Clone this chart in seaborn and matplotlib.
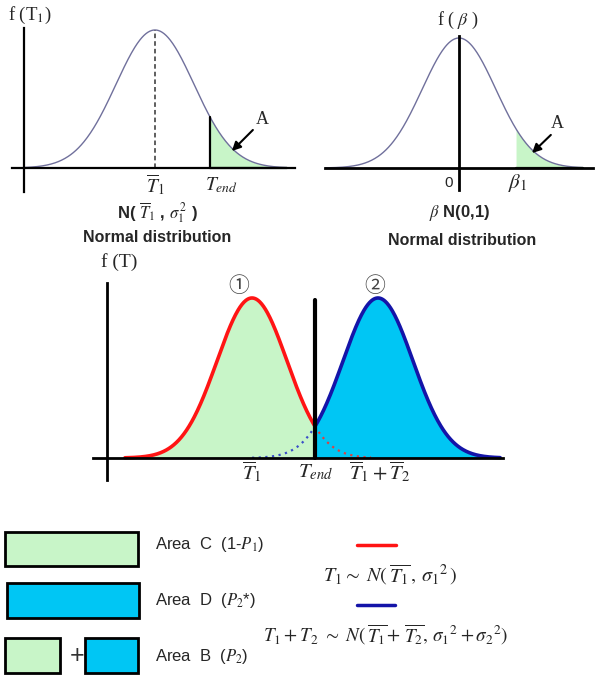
import numpy as np
import matplotlib
matplotlib.use('Agg')
import matplotlib.pyplot as plt
import seaborn as sns
from matplotlib.patches import Rectangle

# curve parameters (standardised units, sigma = 1)
p1_mean, p1_sigma, p1_tend = 0.0, 1.0, 1.41
p1_range = (-3.36, 3.38)
p2_mean, p2_sigma, p2_beta1 = 0.0, 1.0, 1.55
p2_range = (-3.64, 3.37)
p3_mean1, p3_mean2, p3_sigma, p3_tend = 0.0, 3.6, 1.0, 1.8
p3_range = (-3.63, 7.09)

legend_labels = ['Area  C  (1-$P_1$)', 'Area  D  ($P_2$*)', 'Area  B  ($P_2$)']

GREEN = '#c8f5c8'
CYAN = '#00c6f4'
RED = '#ff1414'
BLUE = '#1414a8'
CURVE = '#70709c'

W, H = 600, 685
sns.set_style('white')
plt.rcParams['mathtext.fontset'] = 'stix'
plt.rcParams['font.family'] = ['Liberation Sans', 'DejaVu Sans']

fig = plt.figure(figsize=(6, 6.85), dpi=100)

bg = fig.add_axes([0, 0, 1, 1])
bg.set_xlim(0, W)
bg.set_ylim(H, 0)
bg.axis('off')


def px_axes(x0, y0, x1, y1):
    ax = fig.add_axes([x0 / W, 1 - y1 / H, (x1 - x0) / W, (y1 - y0) / H])
    ax.patch.set_alpha(0)
    return ax


def pdf(x, m, s):
    return np.exp(-0.5 * ((x - m) / s) ** 2) / (s * np.sqrt(2 * np.pi))


def setup(ax, xlim, ylim, left_at, lw=1.6):
    ax.set_xlim(*xlim)
    ax.set_ylim(*ylim)
    ax.set_xticks([])
    ax.set_yticks([])
    ax.spines[['top', 'right']].set_visible(False)
    ax.spines['left'].set_position(('data', left_at))
    ax.spines['bottom'].set_position(('data', 0))
    for s in ('left', 'bottom'):
        ax.spines[s].set_color('black')
        ax.spines[s].set_linewidth(lw)


# ---------- panel 1 ----------
ax1 = px_axes(12, 28, 295, 192)
k1 = 0.3989 / 138
setup(ax1, (-143 / 39, 140 / 39), (-24 * k1, 140 * k1), p1_range[0])
x = np.linspace(*p1_range, 400)
sns.lineplot(x=x, y=pdf(x, p1_mean, p1_sigma), ax=ax1, color=CURVE, lw=1.0)
xt = np.linspace(p1_tend, p1_range[1], 200)
ax1.fill_between(xt, 0, pdf(xt, p1_mean, p1_sigma), color=GREEN, lw=0)
ax1.plot([p1_tend, p1_tend], [0, pdf(p1_tend, p1_mean, p1_sigma)], color='black', lw=1.6)
ax1.plot(xt, np.zeros_like(xt), color='#1e3a1e', lw=1.6)
ax1.plot([p1_mean, p1_mean], [0, pdf(p1_mean, p1_mean, p1_sigma)], color='#333333', lw=1.1, ls=(0, (3, 2)))
ax1.annotate('', xy=(1.92, 15 * k1), xytext=(2.56, 40 * k1),
             arrowprops=dict(arrowstyle='-|>', color='black', lw=1.5, mutation_scale=13))
ax1.text(2.74, 49 * k1, 'A', family='Liberation Serif', fontsize=13, ha='center', va='center')
ax1.text(p1_mean, -17 * k1, r'$\overline{T}_1$', fontsize=14, ha='center', va='center')
ax1.text(p1_tend + 0.3, -17 * k1, r'$T_{end}$', fontsize=14, ha='center', va='center')

bg.text(8, 15, r'f (T$_1$)', family='Liberation Serif', fontsize=13.5, va='center')
bg.text(157, 213, r'N( $\overline{T}_1$ , $\sigma_1^{\,2}$ )', fontsize=12, fontweight='bold',
        ha='center', va='center')
bg.text(157, 237, 'Normal distribution', fontsize=11.5, fontweight='bold', ha='center', va='center')

# ---------- panel 2 ----------
ax2 = px_axes(325, 36, 593, 190)
k2 = 0.3989 / 130
setup(ax2, (-134 / 36.8, 134 / 36.8), (-22 * k2, 132 * k2), 0.0, lw=2.0)
x = np.linspace(*p2_range, 400)
sns.lineplot(x=x, y=pdf(x, p2_mean, p2_sigma), ax=ax2, color=CURVE, lw=1.0)
xt = np.linspace(p2_beta1, p2_range[1], 200)
ax2.fill_between(xt, 0, pdf(xt, p2_mean, p2_sigma), color=GREEN, lw=0)
ax2.plot(xt, np.zeros_like(xt), color='#1e3a1e', lw=1.6)
ax2.annotate('', xy=(1.93, 13 * k2), xytext=(2.55, 35 * k2),
             arrowprops=dict(arrowstyle='-|>', color='black', lw=1.5, mutation_scale=13))
ax2.text(2.66, 45 * k2, 'A', family='Liberation Serif', fontsize=13, ha='center', va='center')
ax2.text(-0.27, -15 * k2, '0', fontsize=11, ha='center', va='center')
ax2.text(p2_beta1 + 0.05, -15 * k2, r'$\beta_1$', fontsize=15, ha='center', va='center')

bg.text(458, 20, r'f ( $\beta$ )', family='Liberation Serif', fontsize=13, ha='center', va='center')
bg.text(460, 213, r'$\beta$ N(0,1)', fontsize=12, fontweight='bold', ha='center', va='center')
bg.text(462, 240, 'Normal distribution', fontsize=11.5, fontweight='bold', ha='center', va='center')

# ---------- panel 3 ----------
ax3 = px_axes(93, 283, 503, 480)
k3 = 0.3989 / 160
setup(ax3, (-159 / 35, 251 / 35), (-22 * k3, 175 * k3), -145 / 35, lw=2.0)
xr = np.linspace(p3_range[0], p3_tend, 300)
xb = np.linspace(p3_tend, p3_range[1], 300)
ax3.fill_between(xr, 0, pdf(xr, p3_mean1, p3_sigma), color=GREEN, lw=0)
ax3.fill_between(xb, 0, pdf(xb, p3_mean2, p3_sigma), color=CYAN, lw=0)
xd = np.linspace(p3_mean1, p3_tend, 50)
sns.lineplot(x=xd, y=pdf(xd, p3_mean2, p3_sigma), ax=ax3, color='#3a4ec8', lw=1.6, linestyle=(0, (1, 2)))
xd = np.linspace(p3_tend, p3_mean2 - 0.2, 50)
sns.lineplot(x=xd, y=pdf(xd, p3_mean1, p3_sigma), ax=ax3, color='#e04040', lw=1.6, linestyle=(0, (1, 2)))
sns.lineplot(x=xr, y=pdf(xr, p3_mean1, p3_sigma), ax=ax3, color=RED, lw=2.6)
sns.lineplot(x=xb, y=pdf(xb, p3_mean2, p3_sigma), ax=ax3, color=BLUE, lw=2.6)
ax3.plot([p3_tend, p3_tend], [0, 158 * k3], color='black', lw=3)
ax3.text(-0.37, 172 * k3, '\u2460', family=['Noto Sans CJK KR', 'DejaVu Sans'], fontsize=15,
         ha='center', va='center', color='#444444')
ax3.text(3.51, 172 * k3, '\u2461', family=['Noto Sans CJK KR', 'DejaVu Sans'], fontsize=15,
         ha='center', va='center', color='#444444')
ax3.text(p3_mean1, -14 * k3, r'$\overline{T}_1$', fontsize=15, ha='center', va='center')
ax3.text(p3_tend + 0.03, -14 * k3, r'$T_{end}$', fontsize=15, ha='center', va='center')
ax3.text(p3_mean2 + 0.05, -14 * k3, r'$\overline{T}_1+\overline{T}_2$', fontsize=15, ha='center', va='center')

bg.text(101, 262, 'f (T)', family='Liberation Serif', fontsize=14, va='center')

# ---------- legend area ----------
boxes = [[(5, 532, 133, 34, GREEN)], [(7, 583, 132, 35, CYAN)],
         [(5, 638, 55, 35, GREEN), (85, 638, 53, 35, CYAN)]]
for row in boxes:
    for (bx, by, bw, bh, c) in row:
        bg.add_patch(Rectangle((bx, by), bw, bh, facecolor=c, edgecolor='black', lw=2))
bg.text(77, 656, '+', fontsize=18, ha='center', va='center', color='#333333')
for lab, yy in zip(legend_labels, [544, 600, 657]):
    bg.text(155, yy, lab, fontsize=12, va='center')

bg.plot([357, 396], [545, 545], color=RED, lw=2.5)
bg.plot([357, 395], [605, 605], color=BLUE, lw=2.5)
bg.text(390, 575, r'$T_1 \sim\ N(\,\overline{T_1}\,,\,\sigma_1{}^2\,)$', fontsize=14.5, ha='center', va='center')
bg.text(386, 635, r'$T_1+T_2\ \sim\ N(\,\overline{T_1}\!+\,\overline{T_2},\,\sigma_1{}^2+\sigma_2{}^2)$',
        fontsize=13.8, ha='center', va='center')

fig.savefig('out.png', dpi=100)
